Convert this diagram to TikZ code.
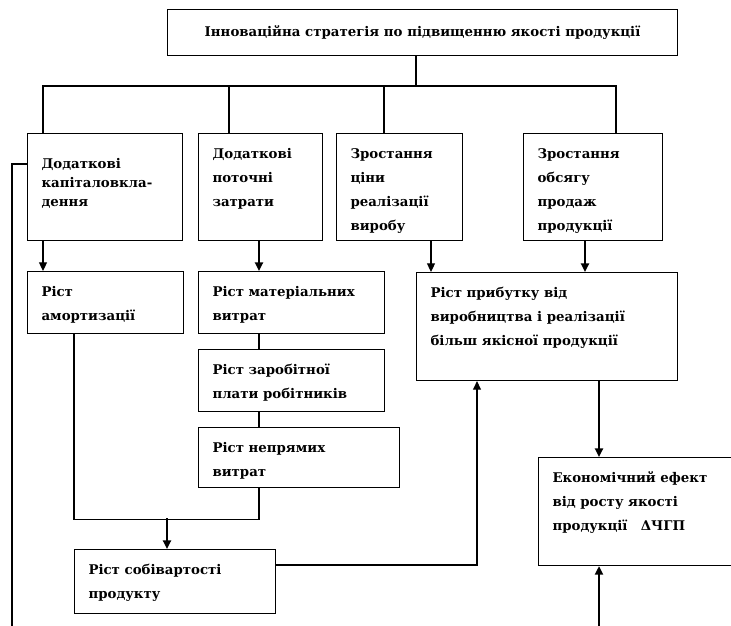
\documentclass[tikz,border=0pt]{standalone}
\usepackage{fontspec}
\setmainfont{DejaVu Serif}
\usetikzlibrary{positioning,calc,arrows.meta}
\newlength\px \setlength\px{0.75pt}
\newcommand{\cell}[4][25]{\parbox[c][#2\px][t]{#3\px}{\rule{0pt}{#1\px}#4}}
\tikzset{>={Triangle[length=6.5pt,width=6pt]}}

\begin{document}
\begin{tikzpicture}[x=0.75pt,y=-0.75pt,
  blk/.style={draw,rectangle,anchor=north west,inner xsep=14\px,inner ysep=0pt,
    line width=.8pt,font=\bfseries\fontsize{10}{18}\selectfont},
  ln/.style={line width=.8pt},
  arr/.style={ln,->},
  tarr/.style={line width=1.8pt,->}]
\useasboundingbox (0,0) rectangle (731,625);
% boxes
\node[blk] (top) at (167,9) {\parbox[c][46\px][c]{482\px}{\centering Інноваційна стратегія по підвищенню якості продукції}};
\node[blk] (kap) at (27,133) {\cell[35]{107}{127}{\fontsize{10}{14.25}\selectfont Додаткові\\капіталовкла-\\дення}};
\node[blk] (potoch) at (198,133) {\cell{107}{96}{Додаткові\\поточні\\затрати}};
\node[blk] (tsina) at (336,133) {\cell{107}{98}{Зростання\\ціни\\реалізації\\виробу}};
\node[blk] (obsyag) at (523,133) {\cell{107}{111}{Зростання\\обсягу\\продаж\\продукції}};
\node[blk] (amort) at (27,271) {\cell{62}{128}{Ріст\\амортизації}};
\node[blk] (mater) at (198,271) {\cell{62}{158}{Ріст матеріальних\\витрат}};
\node[blk] (zarob) at (198,349) {\cell{62}{158}{Ріст заробітної\\плати робітників}};
\node[blk] (nepr) at (198,427) {\cell{60}{173}{Ріст непрямих\\витрат}};
\node[blk] (sobiv) at (74,549) {\cell{64}{173}{Ріст собівартості\\продукту}};
\node[blk] (prib) at (416,272) {\cell{108}{233}{Ріст прибутку від\\виробництва і реалізації\\більш якісної продукції}};
\node[blk] (efekt) at (538,457) {\cell{108}{179}{Економічний ефект\\від росту якості\\продукції\quad ΔЧГП}};
% tree from the top box
\coordinate (bus) at (416,86);
\draw[ln] (top.south -| bus) -- (bus);
\draw[ln] ($(kap.north west)+(16,0)$) |- (bus) -| ($(obsyag.north west)+(93,0)$);
\draw[ln] ($(potoch.north west)+(31,0)$) -- +(0,-47);
\draw[ln] ($(tsina.north west)+(48,0)$) -- +(0,-47);
% arrows down
\draw[arr] ($(kap.south west)+(16,0)$) -- ($(amort.north west)+(16,0)$);
\draw[tarr] ($(potoch.south west)+(61,0)$) -- ($(mater.north west)+(61,0)$);
\draw[arr] ($(tsina.south west)+(95,0)$) coordinate (c1) -- (c1 |- prib.north);
\draw[tarr] ($(obsyag.south west)+(62,0)$) coordinate (d1) -- (d1 |- prib.north);
\draw[ln] ($(mater.south west)+(61,0)$) -- ($(zarob.north west)+(61,0)$);
\draw[ln] ($(zarob.south west)+(61,0)$) -- ($(nepr.north west)+(61,0)$);
\draw[ln] ($(amort.south west)+(47,0)$) |- ($(nepr.south west)+(61,31)$) -- ($(nepr.south west)+(61,0)$);
\draw[tarr] ($(sobiv.north west)+(93,-31)$) -- ($(sobiv.north west)+(93,0)$);
\draw[arr] ($(sobiv.north east)+(0,16)$) -| ($(prib.south west)+(61,0)$);
\draw[tarr] ($(prib.south west)+(183,0)$) coordinate (p1) -- (p1 |- efekt.north);
\coordinate (efin) at ($(efekt.south west)+(61,75)$);
\draw[tarr] (efin) -- (efin |- efekt.south);
% feedback line on the left
\coordinate (fb) at (12,640);
\draw[ln] ($(kap.north west)+(0,31)$) -| (fb);
\end{tikzpicture}
\end{document}
